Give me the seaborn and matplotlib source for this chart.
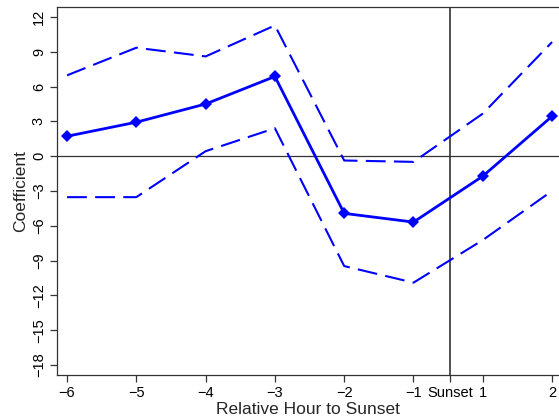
import matplotlib
matplotlib.use("Agg")
import matplotlib.pyplot as plt
import seaborn as sns
import pandas as pd
import numpy as np

# Data
hour_pos = [-6, -5, -4, -3, -2, -1, 0, 1]
tick_labels = ["−6", "−5", "−4", "−3", "−2", "−1", "Sunset", "1", "2"]
tick_pos = [-6, -5, -4, -3, -2, -1, -0.47, 0, 1]
coef = [1.72, 2.93, 4.50, 6.87, -4.93, -5.68, -1.72, 3.44]
upper = [6.97, 9.35, 8.60, 11.27, -0.37, -0.49, 3.67, 9.84]
lower = [-3.53, -3.53, 0.43, 2.41, -9.47, -10.90, -7.23, -2.99]
sunset_pos = -0.47

sns.set_theme(style="ticks")
plt.rcParams['font.family'] = ['Liberation Sans', 'DejaVu Sans']

df = pd.DataFrame({"hour": hour_pos, "coef": coef, "upper": upper, "lower": lower})

fig = plt.figure(figsize=(5.59, 4.2), dpi=100)
ax = fig.add_axes([57/559, 45/420, 1 - 57/559, (375-7)/420])

ax.axhline(0, color="#333333", lw=0.9, zorder=1)
ax.axvline(sunset_pos, color="#333333", lw=1.2, zorder=1)

sns.lineplot(data=df, x="hour", y="upper", ax=ax, color="#0000ff", lw=1.5,
             zorder=3).lines[-1].set_dashes((9.5, 4))
sns.lineplot(data=df, x="hour", y="lower", ax=ax, color="#0000ff", lw=1.5,
             zorder=3).lines[-1].set_dashes((9.5, 4))
sns.lineplot(data=df, x="hour", y="coef", ax=ax, color="#0000ff", lw=2,
             marker="D", markersize=6.5, markeredgewidth=0, zorder=4)

ax.set_xlim(-6.145, 1.10)
ax.set_ylim(-18.86, 12.86)
ax.set_xticks(tick_pos)
ax.set_xticklabels(tick_labels)
ax.set_yticks(np.arange(-18, 13, 3))
ax.set_yticklabels([f"{v}".replace("-", "−") for v in range(-18, 13, 3)], rotation=90, va="center")

ax.tick_params(axis="both", labelsize=10.5, length=5, width=0.9, color="#333333", labelcolor="black", pad=3)
for s in ["left", "bottom", "top"]:
    ax.spines[s].set_color("#333333")
    ax.spines[s].set_linewidth(0.9)
ax.spines["right"].set_visible(False)

ax.set_xlabel("Relative Hour to Sunset", fontsize=12.5, labelpad=1)
ax.set_ylabel("Coefficient", fontsize=12.5, labelpad=3)

fig.savefig("out.png", dpi=100)
